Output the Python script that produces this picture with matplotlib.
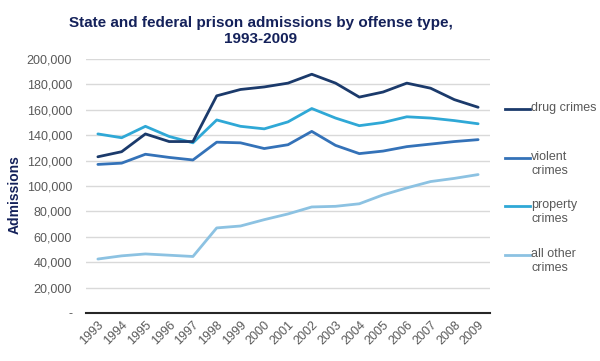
import matplotlib.pyplot as plt
from matplotlib.lines import Line2D
from matplotlib.ticker import FuncFormatter

plt.rcParams['font.family'] = ['Liberation Sans', 'DejaVu Sans']

years = [str(y) for y in range(1993, 2010)]
drug = [123000, 127000, 141000, 135000, 135000, 171000, 176000, 178000, 181000,
        188000, 181000, 170000, 174000, 181000, 177000, 168000, 162000]
violent = [117000, 118000, 125000, 122500, 120500, 134500, 134000, 129500, 132500,
           143000, 132000, 125500, 127500, 131000, 133000, 135000, 136500]
property_ = [141000, 138000, 147000, 139000, 134000, 152000, 147000, 145000, 150500,
             161000, 153500, 147500, 150000, 154500, 153500, 151500, 149000]
other = [42500, 45000, 46500, 45500, 44500, 67000, 68500, 73500, 78000,
         83500, 84000, 86000, 93000, 98500, 103500, 106000, 109000]

labels = ['drug crimes', 'violent\ncrimes', 'property\ncrimes', 'all other\ncrimes']
colors = ['#1b3a6b', '#3472b8', '#2fa8d6', '#8cc2e2']
series = [drug, violent, property_, other]

fig = plt.figure(figsize=(6, 3.61), dpi=100)
ax = fig.add_axes([86/600, 1-313/361, (490-86)/600, (313-59)/361])

x = list(range(len(years)))
# draw light series first so the dark ones sit on top
for vals, c in reversed(list(zip(series, colors))):
    ax.plot(x, vals, color=c, linewidth=2.0, solid_capstyle='round')

ax.set_xlim(-0.5, len(years) - 0.5)
ax.set_ylim(0, 200000)
ax.set_yticks(range(0, 200001, 20000))
ax.yaxis.set_major_formatter(FuncFormatter(lambda v, p: '-' if v == 0 else f'{int(v):,}'))
ax.set_xticks(x)
ax.set_xticklabels(years, rotation=45, ha='right', rotation_mode='anchor')
ax.tick_params(length=0, labelsize=9, colors='#595959')
ax.tick_params(axis='y', pad=10)
ax.tick_params(axis='x', pad=4)
ax.grid(axis='y', color='#d9d9d9', linewidth=1)
ax.set_axisbelow(True)
for s in ['top', 'right', 'left']:
    ax.spines[s].set_visible(False)
ax.spines['bottom'].set_color('#262626')
ax.spines['bottom'].set_linewidth(1.5)

fig.text(261/600, 1-31/361, 'State and federal prison admissions by offense type,\n1993-2009',
         ha='center', va='center', multialignment='center', fontsize=11,
         fontweight='bold', color='#14215a', linespacing=1.25)
fig.text(15/600, 1-195/361, 'Admissions', rotation=90, ha='center', va='center',
         fontsize=10, fontweight='bold', color='#14215a')

# legend drawn by hand: line aligned with the first text line
leg_y = [109, 158, 206, 255]
for lab, c, py in zip(labels, colors, leg_y):
    fy = 1 - py/361
    fig.add_artist(Line2D([505/600, 530/600], [fy, fy], color=c, linewidth=2.0,
                          transform=fig.transFigure))
    fig.text(531/600, fy + 7/361, lab, ha='left', va='top', fontsize=9,
             color='#595959', linespacing=1.25)

fig.savefig('out.png', dpi=100)
